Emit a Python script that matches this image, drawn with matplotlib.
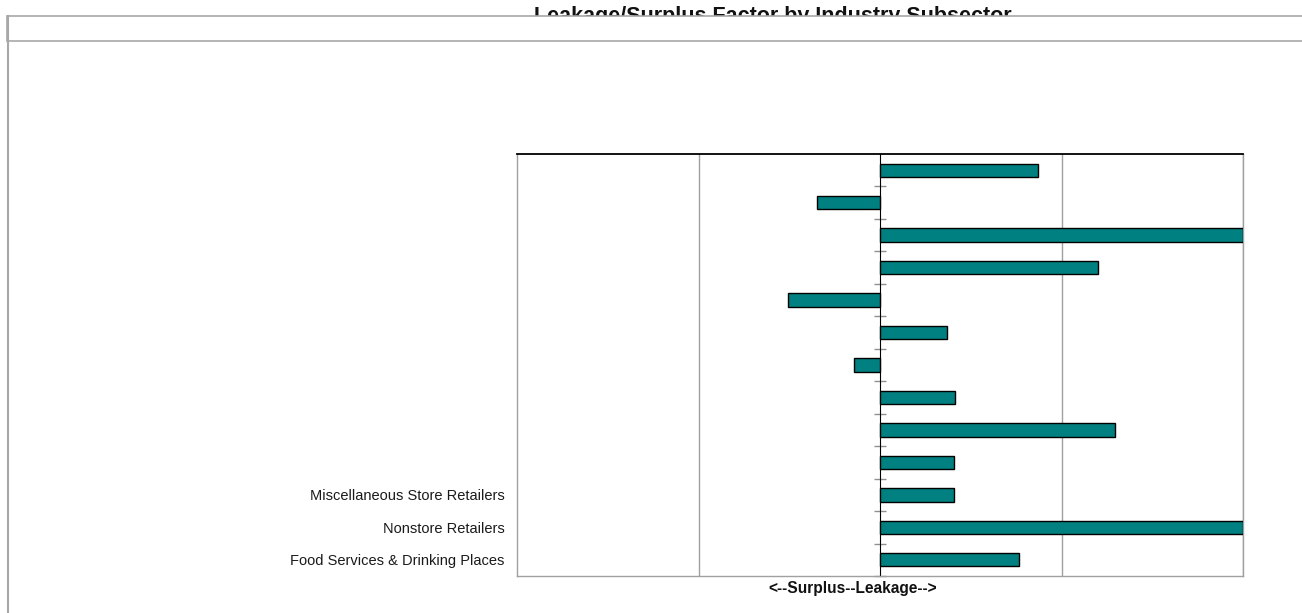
import matplotlib
matplotlib.use("Agg")
import matplotlib.pyplot as plt
from matplotlib.patches import Rectangle
from matplotlib.lines import Line2D

categories = [
    "Motor Vehicle & Parts Dealers",
    "Furniture & Home Furnishings Stores",
    "Electronics & Appliance Stores",
    "Bldg Materials, Garden Equip. & Supply Stores",
    "Food & Beverage Stores",
    "Health & Personal Care Stores",
    "Gasoline Stations",
    "Clothing & Clothing Accessories Stores",
    "Sporting Goods, Hobby, Book & Music Stores",
    "General Merchandise Stores",
    "Miscellaneous Store Retailers",
    "Nonstore Retailers",
    "Food Services & Drinking Places",
]
values = [43.6, -17.4, 100.0, 60.0, -25.3, 18.5, -7.2, 20.7, 64.8, 20.3, 20.5, 100.0, 38.4]
# only these tick labels are visible in the reference
tick_labels = [""] * 10 + categories[10:]
grid_ticks = [-50, 50, 100]

W, H = 1302, 613
fig = plt.figure(figsize=(W / 100, H / 100), dpi=100)
fig.patch.set_facecolor("white")

ax = fig.add_axes([517 / W, (H - 576) / H, 726 / W, 422 / H])
pos = list(range(len(categories)))
ax.barh(pos, values, height=0.41, color="#008080", edgecolor="black", linewidth=1.0, zorder=3)
ax.set_xlim(-100, 100)
ax.set_ylim(len(categories) - 0.5, -0.5)
ax.set_yticks(pos)
ax.set_yticklabels(tick_labels, fontfamily="Liberation Sans", fontsize=10.5, color="#1a1a1a")
ax.tick_params(axis="y", length=0, pad=9)
ax.set_xticks(grid_ticks)
ax.set_xticklabels([])
ax.tick_params(axis="x", length=0)
ax.grid(axis="x", color="#a0a0a0", linewidth=1.0, zorder=0)
ax.set_axisbelow(True)
for s in ["left", "bottom", "right"]:
    ax.spines[s].set_color("#a0a0a0")
    ax.spines[s].set_linewidth(1.0)
ax.spines["top"].set_color("black")
ax.spines["top"].set_linewidth(1.3)

# zero axis line with tick marks at category boundaries
sec = ax.secondary_yaxis(0.5)
sec.spines["left"].set_color("black")
sec.spines["left"].set_linewidth(1.3)
sec.set_yticks([p + 0.5 for p in pos])
sec.set_yticklabels([])
sec.tick_params(axis="y", direction="inout", length=8, color="#909090", width=1.0)

fig.text(853 / W, 1 - 589 / H, "<--Surplus--Leakage-->", ha="center", va="center",
         fontfamily="Liberation Sans", fontweight="bold", fontsize=11.2, color="#111111")

# title, partly covered by the chart frame header
fig.text(773 / W, 1 - 22 / H, "Leakage/Surplus Factor by Industry Subsector", ha="center",
         va="baseline", fontfamily="Liberation Sans", fontweight="bold", fontsize=15.5,
         color="#111111", zorder=1)
hdr = Rectangle((7, H - 41), W, 25, transform=None, facecolor="white",
                edgecolor="#a8a8a8", linewidth=1.2, zorder=5)
fig.add_artist(hdr)
fig.add_artist(Line2D([7.5, 7.5], [0, H - 16], transform=None, color="#a8a8a8",
                      linewidth=1.5, zorder=5))

fig.savefig("out.png", dpi=100, facecolor="white")
